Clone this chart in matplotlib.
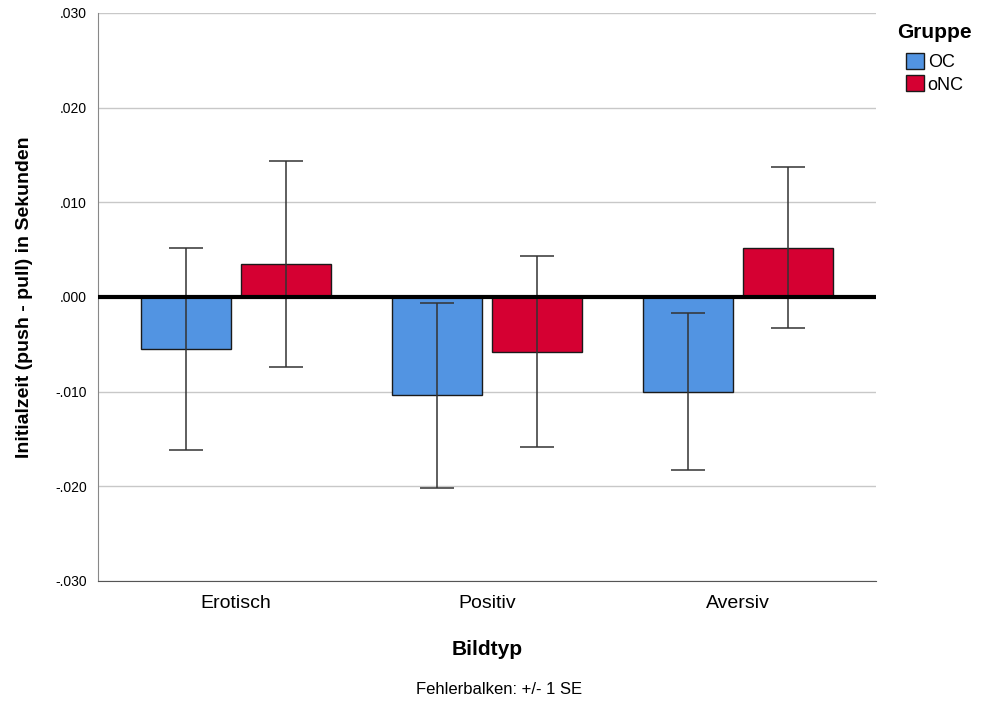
import matplotlib
matplotlib.use("Agg")
import matplotlib.pyplot as plt
import numpy as np
from matplotlib.patches import Patch

plt.rcParams['font.family'] = ['Liberation Sans', 'DejaVu Sans']

# data
categories = ["Erotisch", "Positiv", "Aversiv"]
groups = ["OC", "oNC"]
means_oc = [-0.0055, -0.0104, -0.0100]
se_oc = [0.0107, 0.0098, 0.0083]
means_onc = [0.0035, -0.0058, 0.0052]
se_onc = [0.0109, 0.0101, 0.0085]
colors = ["#5294E2", "#D50032"]

fig = plt.figure(figsize=(9.83, 7.02), dpi=100)
ax = fig.add_axes([0.0997, 0.1724, 0.7913, 0.8091])

x = np.arange(len(categories))
w = 0.358
off = 0.199

for y in [-0.03, -0.02, -0.01, 0.01, 0.02, 0.03]:
    ax.axhline(y, color="#c8c8c8", lw=1, zorder=0)

ax.bar(x - off, means_oc, w, color=colors[0], edgecolor="#1a1a1a", lw=1, zorder=2)
ax.bar(x + off, means_onc, w, color=colors[1], edgecolor="#1a1a1a", lw=1, zorder=2)
ax.errorbar(x - off, means_oc, yerr=se_oc, fmt="none", ecolor="#333333",
            elinewidth=1.1, capsize=12, capthick=1.1, zorder=3)
ax.errorbar(x + off, means_onc, yerr=se_onc, fmt="none", ecolor="#333333",
            elinewidth=1.1, capsize=12, capthick=1.1, zorder=3)
ax.axhline(0, color="black", lw=3, zorder=4)

ax.set_xlim(-0.55, 2.55)
ax.set_ylim(-0.03, 0.03)
ax.set_yticks([-0.03, -0.02, -0.01, 0, 0.01, 0.02, 0.03])
ax.set_yticklabels(["-.030", "-.020", "-.010", ".000", ".010", ".020", ".030"], fontsize=10)
ax.set_xticks(x)
ax.set_xticklabels(categories, fontsize=14)
ax.tick_params(axis="x", length=0, pad=10)
ax.tick_params(axis="y", length=0, pad=8)

for s in ["top", "right"]:
    ax.spines[s].set_visible(False)
ax.spines["left"].set_color("#888888")
ax.spines["bottom"].set_color("#555555")

ax.set_ylabel("Initialzeit (push - pull) in Sekunden", fontsize=14, fontweight="bold", labelpad=16)
ax.set_xlabel("Bildtyp", fontsize=15, fontweight="bold", labelpad=20)

fig.text(0.508, 0.011, "Fehlerbalken: +/- 1 SE", ha="center", fontsize=12)

# legend
fig.text(897 / 983, 1 - 33 / 702, "Gruppe", ha="left", va="center",
         fontsize=15, fontweight="bold")
handles = [Patch(facecolor=c, edgecolor="#1a1a1a", label=g) for c, g in zip(colors, groups)]
fig.legend(handles=handles, loc="upper left",
           bbox_to_anchor=(906 / 983, 1 - 53 / 702), frameon=False, fontsize=13,
           handlelength=1.0, handleheight=1.0, handletextpad=0.2,
           labelspacing=0.22, borderaxespad=0, borderpad=0)

fig.savefig("out.png", dpi=100)
